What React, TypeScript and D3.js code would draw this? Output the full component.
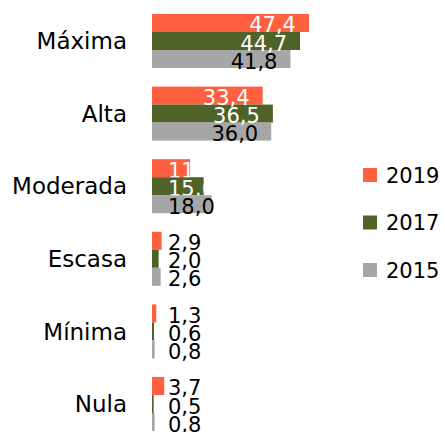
import React, { FC } from 'react';
import * as d3 from 'd3';

// Chart data
const categories = ['Máxima', 'Alta', 'Moderada', 'Escasa', 'Mínima', 'Nula'];
const series = ['2019', '2017', '2015'];
const values2019 = [47.4, 33.4, 11.5, 2.9, 1.3, 3.7];
const values2017 = [44.7, 36.5, 15.6, 2.0, 0.6, 0.5];
const values2015 = [41.8, 36.0, 18.0, 2.6, 0.8, 0.8];

const COLORS = ['#ff6040', '#4f6228', '#a6a6a6'];
const INSIDE_TEXT = ['#ffffff', '#ffffff', '#000000'];
const FONT = '"DejaVu Sans", Verdana, sans-serif';

const WIDTH = 445;
const HEIGHT = 432;

const fmt = (v: number) => v.toFixed(1).replace('.', ',');

const App: FC = () => {
  const valuesBySeries = [values2019, values2017, values2015];

  const y = d3.scaleBand<string>()
    .domain(categories)
    .range([4.7, 440.3])
    .paddingInner(0.256)
    .paddingOuter(0.128);

  const inner = d3.scaleBand<string>()
    .domain(series)
    .range([0, y.bandwidth()]);

  const x = d3.scaleLinear().domain([0, 50]).range([152, 317.6]);

  return (
    <svg
      width={WIDTH}
      height={HEIGHT}
      style={{ position: 'absolute', left: 0, top: 0, background: '#fff' }}
      fontFamily={FONT}
    >
      <defs>
        {categories.map((cat, ci) =>
          series.map((s, si) => {
            const v = valuesBySeries[si][ci];
            return (
              <clipPath key={`${cat}-${s}`} id={`clip-${ci}-${si}`}>
                <rect
                  x={x(0)}
                  y={(y(cat) ?? 0) + (inner(s) ?? 0)}
                  width={x(v) - x(0)}
                  height={inner.bandwidth()}
                />
              </clipPath>
            );
          })
        )}
      </defs>

      {/* category labels */}
      {categories.map(cat => (
        <text
          key={cat}
          x={127}
          y={(y(cat) ?? 0) + y.bandwidth() / 2}
          dy="0.36em"
          textAnchor="end"
          fontSize={23}
          fill="#000"
        >
          {cat}
        </text>
      ))}

      {/* bars */}
      {categories.map((cat, ci) => (
        <g key={cat}>
          {series.map((s, si) => {
            const v = valuesBySeries[si][ci];
            const by = (y(cat) ?? 0) + (inner(s) ?? 0);
            return (
              <rect
                key={s}
                x={x(0)}
                y={by}
                width={x(v) - x(0)}
                height={inner.bandwidth()}
                fill={COLORS[si]}
              />
            );
          })}
        </g>
      ))}

      {/* value labels */}
      {categories.map((cat, ci) => (
        <g key={cat}>
          {series.map((s, si) => {
            const v = valuesBySeries[si][ci];
            const cy = (y(cat) ?? 0) + (inner(s) ?? 0) + inner.bandwidth() / 2;
            const label = fmt(v);
            if (v >= 22) {
              return (
                <text key={s} x={x(v) - 13} y={cy + 9.5} textAnchor="end" fontSize={21} fill={INSIDE_TEXT[si]}>
                  {label}
                </text>
              );
            }
            if (v >= 10) {
              const white = INSIDE_TEXT[si] === '#ffffff';
              return (
                <text
                  key={s}
                  x={168}
                  y={cy + 9.5}
                  fontSize={21}
                  fill={INSIDE_TEXT[si]}
                  clipPath={white ? `url(#clip-${ci}-${si})` : undefined}
                >
                  {label}
                </text>
              );
            }
            return (
              <text key={s} x={168} y={cy + 9.5} fontSize={21} fill="#000">
                {label}
              </text>
            );
          })}
        </g>
      ))}

      {/* legend */}
      {series.map((s, si) => {
        const cy = 175 + si * 47.5;
        return (
          <g key={s}>
            <rect x={363} y={cy - 7} width={14} height={14} fill={COLORS[si]} />
            <text x={386} y={cy} dy="0.36em" fontSize={21} fill="#000">
              {s}
            </text>
          </g>
        );
      })}
    </svg>
  );
};

export default App;
